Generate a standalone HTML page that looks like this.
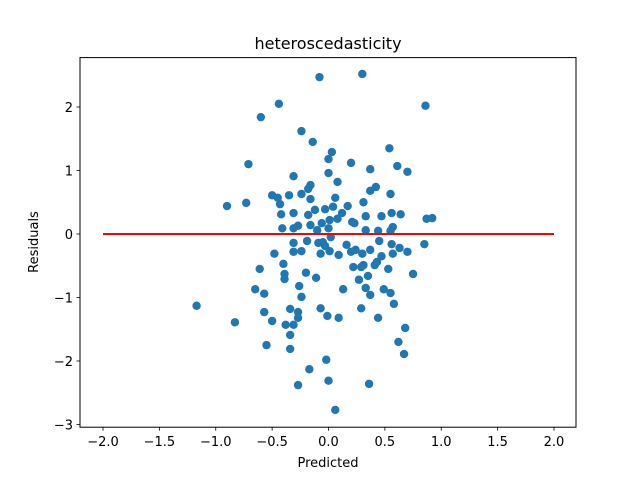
<!DOCTYPE html>
<html><head><meta charset="utf-8"><style>
body{margin:0;background:#fff}
svg{display:block;font-family:"DejaVu Sans","Liberation Sans",sans-serif}
</style></head><body>
<svg id="chart" width="640" height="480" viewBox="0 0 640 480" xmlns="http://www.w3.org/2000/svg">
<rect width="640" height="480" fill="#fff"/>
<text x="328" y="49" font-size="16" text-anchor="middle" fill="#000">heteroscedasticity</text>
<g id="marks"></g>
<g id="axes"></g>
<rect x="80" y="57.6" width="496" height="369.6" fill="none" stroke="#000" stroke-width="1"/>
<text x="328" y="467" font-size="13" text-anchor="middle">Predicted</text>
<text x="0" y="0" font-size="13" text-anchor="middle" transform="translate(38,242) rotate(-90)">Residuals</text>
</svg>
<script>
const predicted=[-0.08,0.30,-0.44,-0.60,0.86,-0.24,-0.14,0.03,0.00,0.54,-0.71,0.20,0.37,0.61,0.70,-0.31,0.00,0.08,-0.16,-0.18,0.42,0.37,0.55,-0.50,-0.45,-0.35,-0.24,-0.16,0.06,-0.90,-0.73,-0.43,0.17,0.31,-0.42,-0.31,-0.18,-0.12,-0.03,0.04,0.12,0.33,0.47,0.56,0.64,0.87,0.92,-0.41,-0.31,-0.27,-0.16,-0.06,0.01,0.08,0.21,0.23,0.33,0.44,0.57,0.55,-0.10,0.00,
-0.31,-0.19,-0.09,-0.05,0.02,-0.03,0.16,0.24,0.20,0.30,0.37,0.45,0.56,0.63,0.70,0.85,0.57,0.47,0.43,0.41,-0.48,-0.31,-0.24,-0.07,0.01,0.09,-0.40,-0.61,-0.39,-0.39,-0.20,-0.11,0.22,0.31,0.29,0.53,0.75,0.35,0.27,-0.26,-0.65,-0.57,-0.24,0.13,0.33,0.37,0.49,0.55,0.58,-1.17,-0.83,-0.57,-0.50,-0.34,-0.27,-0.27,-0.38,-0.31,-0.34,-0.07,-0.01,0.09,0.29,0.44,0.68,0.62,0.67,-0.55,-0.34,-0.02,-0.17,0.00,-0.27,0.36,0.06];
const residuals=[2.47,2.52,2.05,1.84,2.02,1.62,1.45,1.29,1.18,1.35,1.10,1.12,1.02,1.07,0.98,0.91,0.96,0.82,0.77,0.71,0.74,0.68,0.63,0.61,0.57,0.61,0.63,0.55,0.57,0.44,0.49,0.47,0.44,0.50,0.31,0.33,0.30,0.38,0.39,0.43,0.33,0.28,0.28,0.33,0.31,0.24,0.25,0.09,0.09,0.13,0.14,0.17,0.22,0.24,0.19,0.17,0.06,0.05,0.11,0.05,0.06,0.09,
-0.14,-0.11,-0.14,-0.13,-0.05,-0.19,-0.17,-0.25,-0.28,-0.31,-0.25,-0.11,-0.16,-0.22,-0.28,-0.16,-0.31,-0.35,-0.44,-0.49,-0.31,-0.28,-0.27,-0.31,-0.27,-0.33,-0.47,-0.55,-0.63,-0.71,-0.61,-0.69,-0.52,-0.49,-0.52,-0.55,-0.63,-0.66,-0.72,-0.82,-0.87,-0.94,-0.99,-0.87,-0.85,-0.96,-0.87,-0.93,-1.10,-1.13,-1.39,-1.23,-1.37,-1.18,-1.23,-1.32,-1.43,-1.43,-1.59,-1.17,-1.29,-1.32,-1.17,-1.32,-1.48,-1.70,-1.89,-1.75,-1.81,-1.98,-2.13,-2.31,-2.38,-2.36,-2.77];
const xTicks=[-2.0,-1.5,-1.0,-0.5,0.0,0.5,1.0,1.5,2.0];
const yTicks=[-3,-2,-1,0,1,2];
const refLineX=[-2,2];
const refLineY=0;

const NS="http://www.w3.org/2000/svg";
function sx(v){return 328.5+v*112.75;}
function sy(v){return 234-v*63.5;}
const marks=document.getElementById('marks');
const axes=document.getElementById('axes');
function mk(tag,attrs,parent){const e=document.createElementNS(NS,tag);for(const k in attrs)e.setAttribute(k,attrs[k]);parent.appendChild(e);return e;}
for(let i=0;i<predicted.length;i++){
  const c=mk('circle',{cx:sx(predicted[i]),cy:sy(residuals[i]),r:4.2,fill:'#1f77b4'},marks);
  
  
}
const ln=mk('line',{x1:sx(refLineX[0]),x2:sx(refLineX[1]),y1:sy(refLineY),y2:sy(refLineY),stroke:'#ff0000','stroke-width':2},marks);


function fmt(v,d){const s=Math.abs(v).toFixed(d);return (v<0?'\u2212':'')+s;}
xTicks.forEach(v=>{
  const x=sx(v);
  const t=mk('line',{x1:x,x2:x,y1:427.2,y2:430.7,stroke:'#000','stroke-width':0.8},axes);
  
  
  const l=mk('text',{x:x,y:446,'font-size':13,'text-anchor':'middle'},axes);
  l.textContent=fmt(v,1);
  
  
});
yTicks.forEach(v=>{
  const y=sy(v);
  const t=mk('line',{x1:76.5,x2:80,y1:y,y2:y,stroke:'#000','stroke-width':0.8},axes);
  
  
  const l=mk('text',{x:73,y:y+5,'font-size':13,'text-anchor':'end'},axes);
  l.textContent=fmt(v,0);
  
  
});
</script>
</body></html>
